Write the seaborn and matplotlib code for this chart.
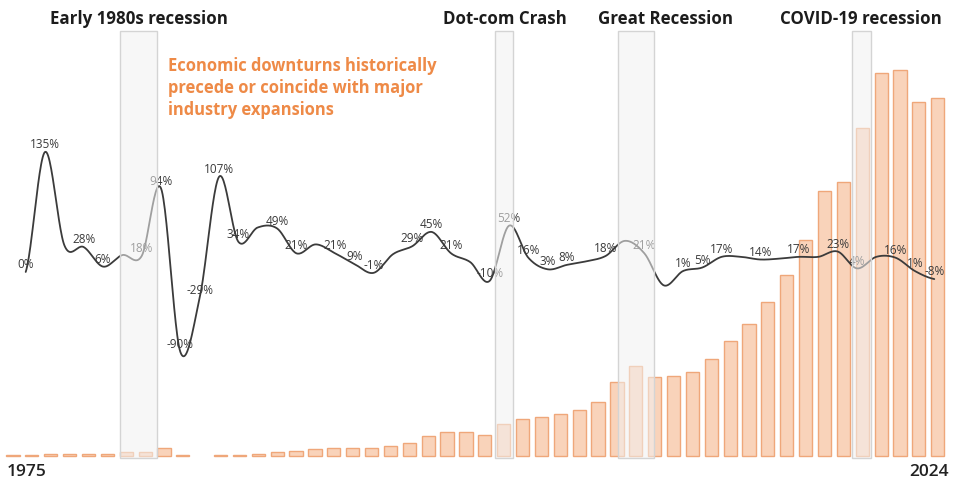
import numpy as np
import pandas as pd
import matplotlib
matplotlib.use("Agg")
import matplotlib.pyplot as plt
import seaborn as sns
from matplotlib.patches import Rectangle

# ---- data -------------------------------------------------------------
years = list(range(1975, 2025))
volume = [0.6, 0.6, 2.5, 2.5, 2.5, 2.5, 4, 4, 8, 1,
          0, 1, 1.5, 2.5, 4.5, 5.5, 7.5, 8.5, 8.5, 8.5,
          10, 13, 20, 24, 24, 21, 32, 37, 39, 42,
          46, 54, 74, 90, 79, 80, 84, 97, 115, 132,
          154, 181, 216, 265, 274, 328, 383, 386, 354, 358]

# year-over-year change (%), one point per step of the trend line
growth = [0, 135, 30, 28, 6, 19, 18, 94, -90, -29,
          107, 34, 50, 49, 21, 31, 21, 9, -1, 20,
          29, 45, 21, 11, -10, 52, 16, 3, 8, 12,
          18, 35, 21, -15, 1, 5, 17, 17, 14, 15,
          17, 17, 23, 4, 17, 16, 1, -8]
# points whose value is written on the chart
labeled = [0, 1, 3, 4, 6, 7, 8, 9, 10, 11, 13, 14, 16, 17, 18, 20, 21, 22,
           24, 25, 26, 27, 28, 30, 32, 34, 35, 36, 38, 40, 42, 43, 45, 46, 47]

recession_names = ["Early 1980s recession", "Dot-com Crash",
                   "Great Recession", "COVID-19 recession"]
recession_start = [1980.67, 2000.55, 2007.06, 2019.46]
recession_end = [1982.63, 2001.5, 2008.97, 2020.47]
recession_title_x = [1981.68, 2001.05, 2009.55, 2019.94]

note = ("Economic downturns historically\n"
        "precede or coincide with major\n"
        "industry expansions")

# ---- style --------------------------------------------------------------
sns.set_theme(style="white")
plt.rcParams["font.family"] = ["Open Sans", "DejaVu Sans"]

BAR_FILL = "#f9d3ba"
BAR_EDGE = "#efa77a"
LINE = "#3b3b3b"
ORANGE = "#ee8a47"

W, H = 960, 481
fig = plt.figure(figsize=(W / 100, H / 100), dpi=100)

# bars
ax = fig.add_axes([0, 0, 1, 1])
df = pd.DataFrame({"year": years, "volume": volume})
sns.barplot(data=df, x="year", y="volume", ax=ax, color=BAR_FILL,
            edgecolor=BAR_EDGE, linewidth=1.0, width=0.7, saturation=1)
for p in ax.patches:
    if p.get_height() == 0:
        p.set_visible(False)
ax.set_xlim(-0.689, 50.18)
ax.set_ylim(-24, 457)
ax.axis("off")

# smoothed trend line (Catmull-Rom through every point)
ax2 = fig.add_axes([0, 0, 1, 1])
ax2.patch.set_alpha(0)
g = np.asarray(growth, dtype=float)
gp = np.concatenate([[g[0]], g, [g[-1]]])
xs, ys = [], []
t = np.linspace(0, 1, 25, endpoint=False)
for k in range(len(g) - 1):
    p0, p1, p2, p3 = gp[k], gp[k + 1], gp[k + 2], gp[k + 3]
    y = 0.5 * (2 * p1 + (-p0 + p2) * t + (2 * p0 - 5 * p1 + 4 * p2 - p3) * t ** 2
               + (-p0 + 3 * p1 - 3 * p2 + p3) * t ** 3)
    xs.extend(k + t)
    ys.extend(y)
xs.append(len(g) - 1)
ys.append(g[-1])
sns.lineplot(x=xs, y=ys, ax=ax2, color=LINE, linewidth=1.3, estimator=None, sort=False)
for j in labeled:
    ax2.annotate(f"{growth[j]}%", (j, growth[j]), xytext=(0, 6),
                 textcoords="offset points", ha="center", va="center",
                 fontsize=8.5, color="#3a3a3a")
ax2.set_xlim(-1.33, 48.33)
ax2.set_ylim(-234, 307)
ax2.axis("off")

# recession bands, titles and notes
ax3 = fig.add_axes([0, 0, 1, 1])
ax3.patch.set_alpha(0)
ax3.set_xlim(-0.689, 50.18)
ax3.set_ylim(-24, 457)
ax3.axis("off")
for name, s, e, tx in zip(recession_names, recession_start, recession_end, recession_title_x):
    ax3.add_patch(Rectangle((s - 1975, -2), e - s, 427, facecolor="#f2f2f2",
                            alpha=0.55, edgecolor="none"))
    ax3.add_patch(Rectangle((s - 1975, -2), e - s, 427, facecolor="none",
                            edgecolor="#d4d4d4", linewidth=1.0))
    ax3.text(tx - 1975, 438, name, ha="center", va="center", fontsize=12.2,
             fontweight="bold", color="#1c1c1c")

fig.text(168 / W, 1 - 57 / H, note, ha="left", va="top", fontsize=11.9,
         fontweight="bold", color=ORANGE, linespacing=1.3)

ax3.text(-0.36, -15, str(years[0]), ha="left", va="center", fontsize=12.5,
         fontweight="semibold", color="#222222")
ax3.text(49.6, -15, str(years[-1]), ha="right", va="center", fontsize=12.5,
         fontweight="semibold", color="#222222")

fig.savefig("out.png", dpi=100, facecolor="white")
